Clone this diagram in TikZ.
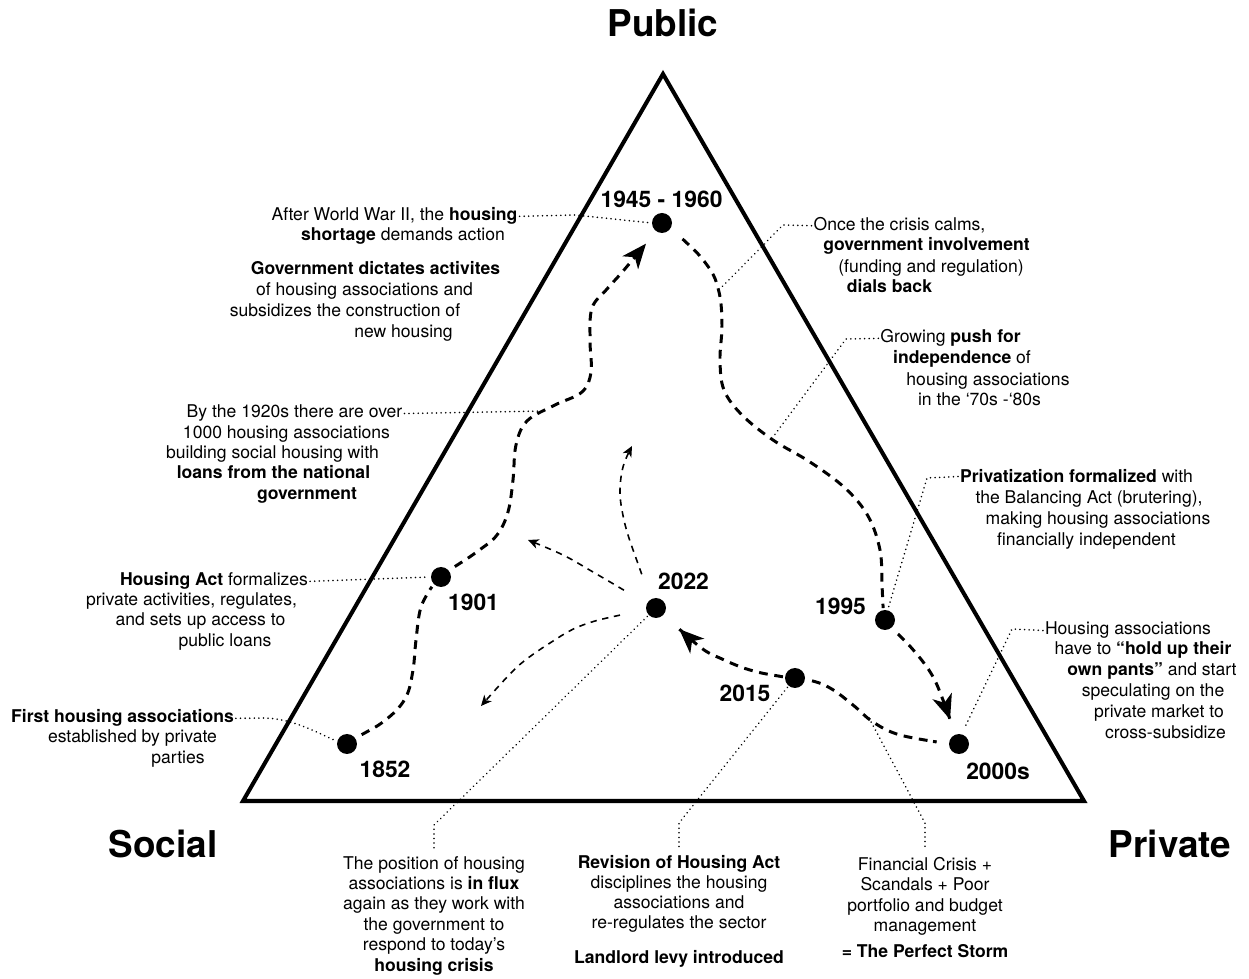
\documentclass[tikz,border=0pt]{standalone}
\usepackage{fontspec}
\setmainfont{TeX Gyre Heros}
\usetikzlibrary{arrows.meta}
\begin{document}
\begin{tikzpicture}[x=0.02cm,y=-0.02cm,
  txt/.style={font=\fontsize{10}{12}\selectfont, inner sep=1pt, anchor=base},
  yr/.style={font=\fontsize{13}{15}\selectfont\bfseries, inner sep=0pt, anchor=base},
  big/.style={font=\fontsize{21}{24}\selectfont\bfseries, inner sep=0pt, anchor=base},
  dot/.style={circle, fill=black, inner sep=0pt, minimum size=0.4cm},
  tri/.style={line width=2.3pt, line join=miter},
  mainpath/.style={line width=1.7pt, dash pattern=on 5pt off 3.8pt},
  minorpath/.style={line width=0.9pt, dash pattern=on 3.6pt off 3.2pt},
  leader/.style={line width=1pt, dash pattern=on 0.01pt off 2.6pt, line cap=round},
  bigtip/.style={-{Stealth[length=14pt,width=11.5pt,inset=4pt]}},
  smalltip/.style={-{Stealth[length=6pt,width=5.5pt,inset=1.7pt]}},
]
\fill[white] (0,0) rectangle (1249,979);
\useasboundingbox (0,0) rectangle (1249,979);

% triangle
\coordinate (TA) at (663,74);
\coordinate (TL) at (243,801);
\coordinate (TR) at (1084,801);
\draw[tri] (TA) -- (TL) -- (TR) -- cycle;

% corner labels
\node[big] (pub) at (663,37) {Public};
\node[big] (soc) at (163,858) {Social};
\node[big] (pri) at (1170,858) {Private};

% dots
\node[dot] (n1945) at (662,223) {};
\node[dot] (n1901) at (441,577) {};
\node[dot] (n1852) at (347,744) {};
\node[dot] (n2022) at (656,608) {};
\node[dot] (n1995) at (885,620) {};
\node[dot] (n2015) at (795,678) {};
\node[dot] (n2000) at (959,744) {};

% year labels
\node[yr] (y1945) at (661.5,208) {1945 - 1960};
\node[yr] (y1901) at (473.5,611) {1901};
\node[yr] (y1852) at (385,778) {1852};
\node[yr] (y2022) at (683.5,590) {2022};
\node[yr] (y1995) at (840.5,615) {1995};
\node[yr] (y2015) at (745,702) {2015};
\node[yr] (y2000) at (998,780) {2000s};

% main dashed path
\draw[mainpath, shorten <=4pt, shorten >=2pt] plot[smooth, tension=0.6] coordinates
  {(n1852.35) (388,718) (406,697) (413,670) (416,640) (421,607) (n1901.225)};
\draw[mainpath, bigtip, shorten <=4pt, shorten >=9pt] plot[smooth, tension=0.6] coordinates
  {(n1901.40) (478,551) (497,535) (508,512) (513,480) (516,445) (527,421) (555,405) (582,392) (591,372) (590,340) (592,308) (607,289) (624,270) (n1945.235)};
\draw[mainpath, shorten <=9pt, shorten >=1pt] plot[smooth, tension=0.6] coordinates
  {(n1945.-30) (707,265) (719,292) (722,325) (720,360) (724,390) (742,415) (773,440) (810,462) (845,488) (868,516) (880,550) (882,585) (n1995.100)};
\draw[mainpath, bigtip, shorten <=5pt, shorten >=9pt] plot[smooth, tension=0.6] coordinates
  {(n1995.-50) (915,652) (932,675) (943,700) (n2000.112)};
\draw[mainpath, shorten <=4pt, shorten >=9pt] plot[smooth, tension=0.6] coordinates
  {(n2015.-5) (830,688) (853,705) (873,722) (900,735) (n2000.178)};
\draw[mainpath, bigtip, shorten <=1pt, shorten >=12pt] plot[smooth, tension=0.6] coordinates
  {(n2015.175) (750,670) (722,659) (700,647) (n2022.-40)};

% minor dashed arrows from 2022
\coordinate (e1) at (632,446);
\coordinate (e2) at (528,540);
\coordinate (e3) at (481,706);
\draw[minorpath, smalltip, shorten <=15pt] plot[smooth, tension=0.6] coordinates
  {(n2022.119) (632,547) (624,520) (620,493) (623,467) (e1)};
\draw[minorpath, smalltip, shorten <=15pt] plot[smooth, tension=0.6] coordinates
  {(n2022.155) (593,572) (563,555) (e2)};
\draw[minorpath, smalltip, shorten <=15pt] plot[smooth, tension=0.5] coordinates
  {(n2022.188) (583,625) (550,643) (517,667) (e3)};

% text blocks
\node[txt] (A1) at (394.5,221) {After World War II, the \textbf{housing}};
\node[txt] (A2) at (403,241) {\textbf{shortage} demands action};
\node[txt] (A3) at (375.5,275) {\textbf{Government dictates activites}};
\node[txt] (A4) at (364.5,296) {of housing associations and};
\node[txt] (A5) at (345,317) {subsidizes the construction of};
\node[txt] (A6) at (403.5,338) {new housing};

\node[txt] (B1) at (899.5,231) {Once the crisis calms,};
\node[txt] (B2) at (926.5,251) {\textbf{government involvement}};
\node[txt] (B3) at (931,273) {(funding and regulation)};
\node[txt] (B4) at (889.5,293) {\textbf{dials back}};

\node[txt] (C1) at (950.5,343) {Growing \textbf{push for}};
\node[txt] (C2) at (962,364) {\textbf{independence} of};
\node[txt] (C3) at (988,386) {housing associations};
\node[txt] (C4) at (979.5,406) {in the ‘70s -‘80s};

\node[txt] (D1) at (294.5,418) {By the 1920s there are over};
\node[txt] (D2) at (286.5,439) {1000 housing associations};
\node[txt] (D3) at (272.5,459) {building social housing with};
\node[txt] (D4) at (273.5,479) {\textbf{loans from the national}};
\node[txt] (D5) at (307,500) {\textbf{government}};

\node[txt] (E1) at (214,586) {\textbf{Housing Act} formalizes};
\node[txt] (E2) at (191.5,606) {private activities, regulates,};
\node[txt] (E3) at (200.5,626) {and sets up access to};
\node[txt] (E4) at (225,647) {public loans};

\node[txt] (F1) at (122.5,723) {\textbf{First housing associations}};
\node[txt] (F2) at (132.5,743) {established by private};
\node[txt] (F3) at (178,764) {parties};

\node[txt] (G1) at (1076.5,483) {\textbf{Privatization formalized} with};
\node[txt] (G2) at (1089,504) {the Balancing Act (brutering),};
\node[txt] (G3) at (1098,525) {making housing associations};
\node[txt] (G4) at (1086.5,546) {financially independent};

\node[txt] (H1) at (1128,635) {Housing associations};
\node[txt] (H2) at (1143,655) {have to \textbf{“hold up their}};
\node[txt] (H3) at (1152,676) {\textbf{own pants”} and start};
\node[txt] (H4) at (1153,697) {speculating on the};
\node[txt] (H5) at (1159,718) {private market to};
\node[txt] (H6) at (1165.5,739) {cross-subsidize};

\node[txt] (I1) at (434,870) {The position of housing};
\node[txt] (I2) at (434,890) {associations is \textbf{in flux}};
\node[txt] (I3) at (434,910) {again as they work with};
\node[txt] (I4) at (434,931) {the government to};
\node[txt] (I5) at (434,951) {respond to today’s};
\node[txt] (I6) at (434,972) {\textbf{housing crisis}};

\node[txt] (J1) at (679,869) {\textbf{Revision of Housing Act}};
\node[txt] (J2) at (679,889) {disciplines the housing};
\node[txt] (J3) at (679,909) {associations and};
\node[txt] (J4) at (679,929) {re-regulates the sector};
\node[txt] (J5) at (679,964) {\textbf{Landlord levy introduced}};

\node[txt] (K1) at (925,871) {Financial Crisis +};
\node[txt] (K2) at (925,891) {Scandals + Poor};
\node[txt] (K3) at (925,912) {portfolio and budget};
\node[txt] (K4) at (925,932) {management};
\node[txt] (K5) at (925,958) {\textbf{= The Perfect Storm}};

% leaders
\coordinate (fB) at (720,289);
\coordinate (fC) at (773,437);
\coordinate (fD) at (545,411);
\coordinate (fK) at (869,718);
\draw[leader, shorten >=2pt] (A1.east) -- (575,215) -- (n1945.west);
\draw[leader] (B1.west) -- (783,225) -- (fB);
\draw[leader] (C1.west) -- (846,339) -- (fC);
\draw[leader] (D1.east) -- (fD);
\draw[leader, shorten >=1pt] (E1.east) -- (n1901.west);
\draw[leader, shorten >=2pt] (F1.east) -- (262,718) .. controls (290,718) and (312,730) .. (n1852.165);
\draw[leader, shorten >=2pt] (G1.west) -- (927,478) -- (n1995.75);
\draw[leader, shorten >=3pt] (H1.west) -- (1012,629) -- (n2000.75);
\draw[leader, shorten <=1pt, shorten >=3pt] (n2022.224) -- (434,825) -- (I1.north);
\draw[leader, shorten <=1pt, shorten >=3pt] (n2015.231) -- (679,823) -- (J1.north);
\draw[leader, shorten >=3pt] (fK) -- (925,823) -- (K1.north);
\end{tikzpicture}
\end{document}
